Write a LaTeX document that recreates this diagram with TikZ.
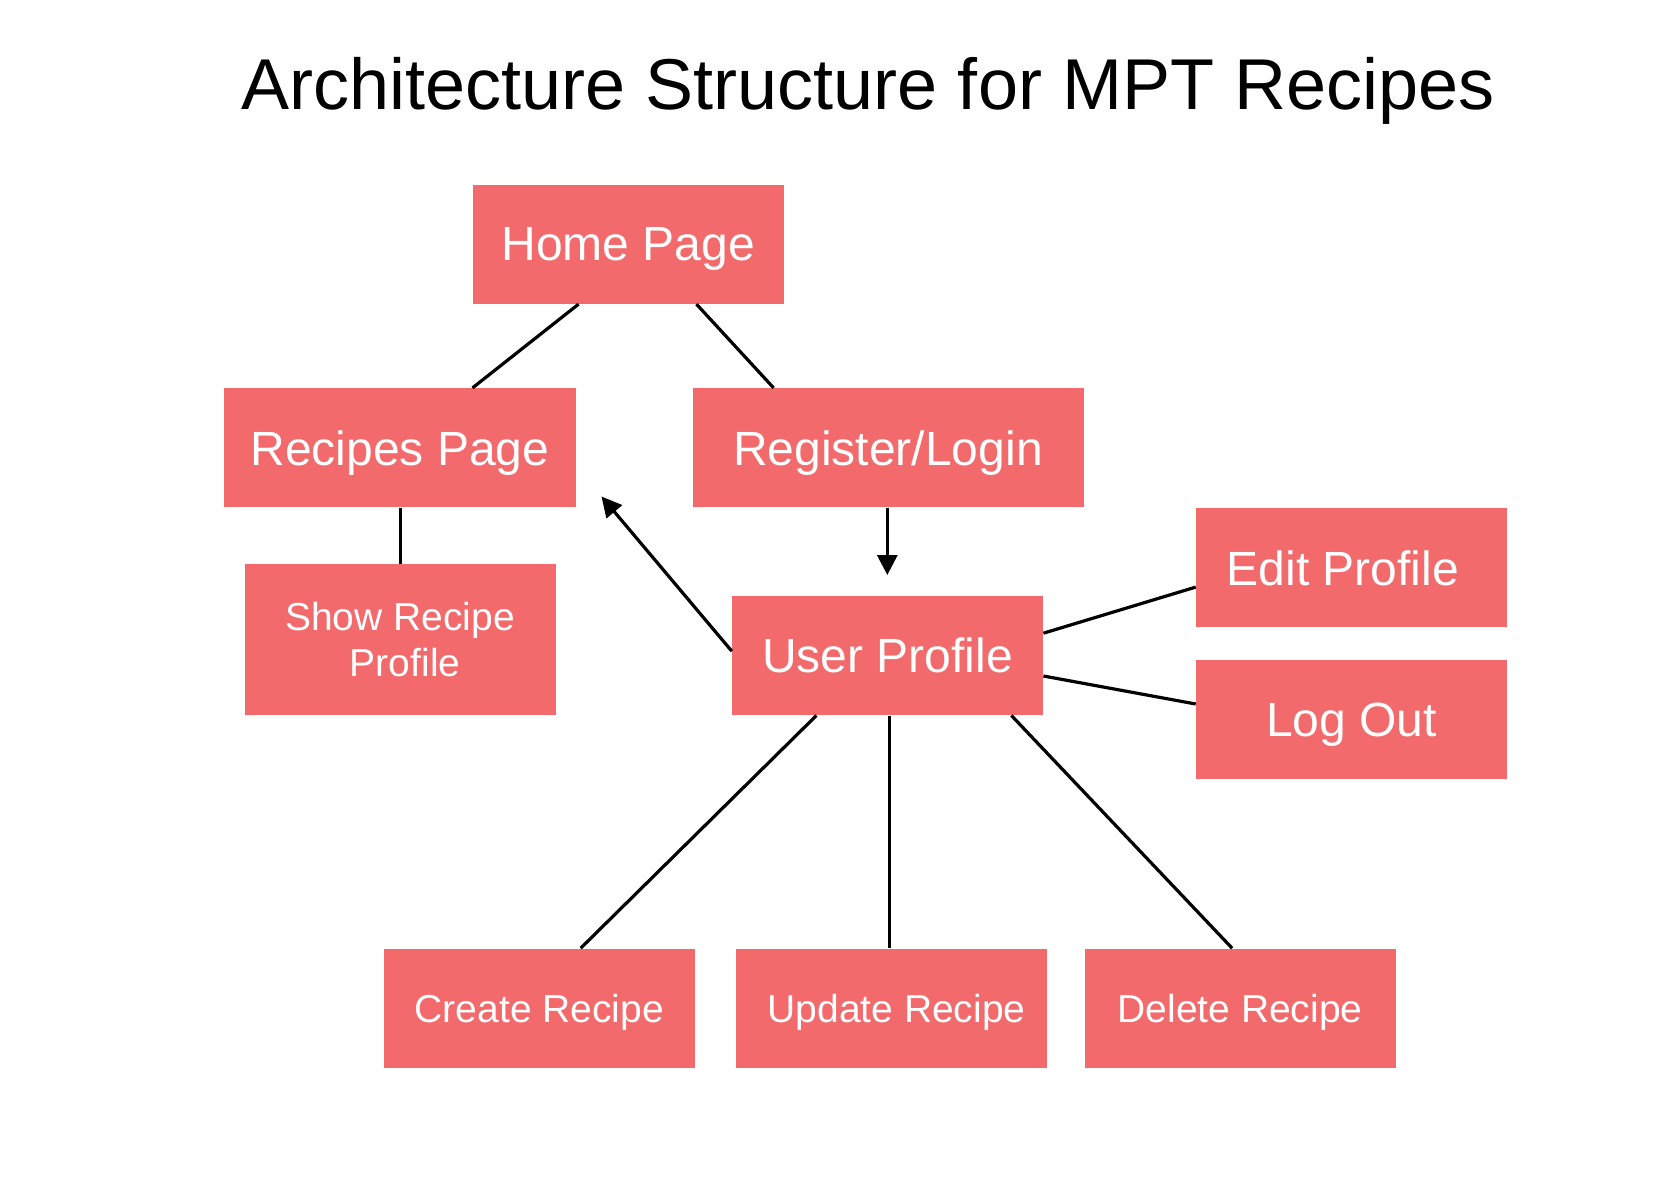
\documentclass[tikz,border=0pt]{standalone}
\usepackage{fontspec}
\setmainfont{Liberation Sans}
\usetikzlibrary{arrows.meta,calc}
\definecolor{boxred}{RGB}{242,106,108}
\begin{document}
\begin{tikzpicture}[x=0.5pt,y=-0.5pt,
  box/.style={fill=boxred,text=white,inner sep=0pt,anchor=north west,
    minimum width=155.4pt,minimum height=59.5pt,text depth=0pt,
    font=\fontsize{24}{28}\selectfont},
  smallbox/.style={box,font=\fontsize{19.5}{23}\selectfont,align=center},
  conn/.style={line width=1.6pt,black},
  arr/.style={conn,-{Triangle[length=10pt,width=10pt]}}]
\fill[white] (0,0) rectangle (1680,1188);
\useasboundingbox (0,0) rectangle (1680,1188);
\node[font=\fontsize{36}{42}\selectfont,anchor=base] (title) at (868,110) {Architecture Structure for MPT Recipes};
\node[box] (home) at (472.5,184.3) {Home Page};
\node[box,minimum width=175.7pt] (recipes) at (223.9,387.9) {Recipes Page};
\node[box,minimum width=195.5pt] (register) at (692.1,387.9) {Register/Login};
\node[smallbox,minimum height=75.5pt,text depth=] (show) at (244.3,563.6) {Show Recipe\\\hspace*{5pt}Profile};
\node[box] (user) at (731.8,595.7) {User Profile};
\node[box] (edit) at (1195.7,507.9) {Edit Profile\hspace*{8.6pt}};
\node[box] (logout) at (1195.7,660) {Log Out};
\node[smallbox] (create) at (383.6,948.2) {Create Recipe};
\node[smallbox] (update) at (736,948.2) {\hspace*{4.8pt}Update Recipe};
\node[smallbox] (delete) at (1084.3,948.2) {Delete Recipe};
% connectors
\draw[conn] ($(home.south west)+(106.1,0)$) -- ($(recipes.north west)+(248.6,0)$);
\draw[conn] ($(home.south west)+(223.9,0)$) -- ($(register.north west)+(81.5,0)$);
\draw[conn] (recipes.south -| show.north) -- (show.north);
\coordinate (regtip) at (887.3,575);
\draw[arr] (register.south -| regtip) -- (regtip);
\coordinate (rectip) at (601.5,496.5);
\draw[arr] ($(user.north west)+(0,55.5)$) -- (rectip);
\draw[conn] ($(user.north east)+(0,37.5)$) -- ($(edit.north west)+(0,79.2)$);
\draw[conn] ($(user.north east)+(0,80.3)$) -- ($(logout.north west)+(0,44)$);
\draw[conn] ($(user.south west)+(84.6,0)$) -- ($(create.north west)+(197.1,0)$);
\draw[conn] ($(user.south west)+(157.5,0)$) -- ($(update.north west)+(153.3,0)$);
\draw[conn] ($(user.south west)+(279.6,0)$) -- ($(delete.north west)+(147.8,0)$);
\end{tikzpicture}
\end{document}
